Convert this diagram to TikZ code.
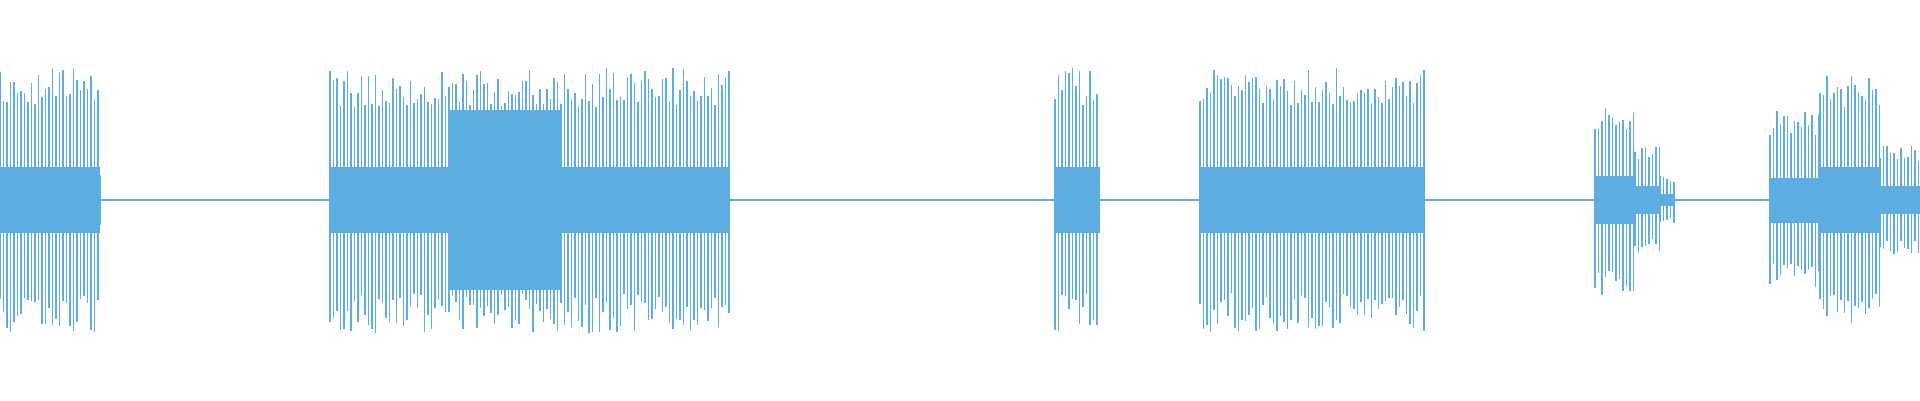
\documentclass[tikz,border=0pt]{standalone}
\definecolor{wave}{RGB}{93,173,226}
\tikzset{wavestroke/.style={draw=wave,line width=0.45pt}}
% one burst of the waveform: start, end, amplitude (cm)
\newcommand{\burst}[3]{%
  \fill[wave] (#1,{2-0.25*#3}) rectangle (#2,{2+0.25*#3});
  \pgfmathsetmacro{\xnext}{#1+0.035}
  \foreach \x in {#1,\xnext,...,#2}{
    \pgfmathsetmacro{\hup}{#3*(0.7+0.3*rnd)}
    \pgfmathsetmacro{\hdn}{#3*(0.7+0.3*rnd)}
    \draw[wavestroke] (\x,{2+\hup}) -- (\x,{2-\hdn});
  }}
\begin{document}
\begin{tikzpicture}
\useasboundingbox (0,0) rectangle (19.2,4);
\pgfmathsetseed{7}
% baseline
\draw[wavestroke] (0,2) -- (19.2,2);
% bursts
\burst{0}{1.0}{1.33}
\draw[wavestroke] (1.0,2.25) -- (1.0,1.75);
\burst{3.3}{7.3}{1.33}
\fill[wave] (4.5,1.1) rectangle (5.6,2.9);
\burst{10.55}{11.0}{1.33}
\burst{12.0}{14.25}{1.33}
\burst{15.95}{16.35}{0.95}
\burst{16.35}{16.6}{0.55}
\burst{16.6}{16.75}{0.25}
\burst{17.7}{18.2}{0.9}
\burst{18.2}{18.8}{1.33}
\burst{18.8}{19.2}{0.55}
\end{tikzpicture}
\end{document}
